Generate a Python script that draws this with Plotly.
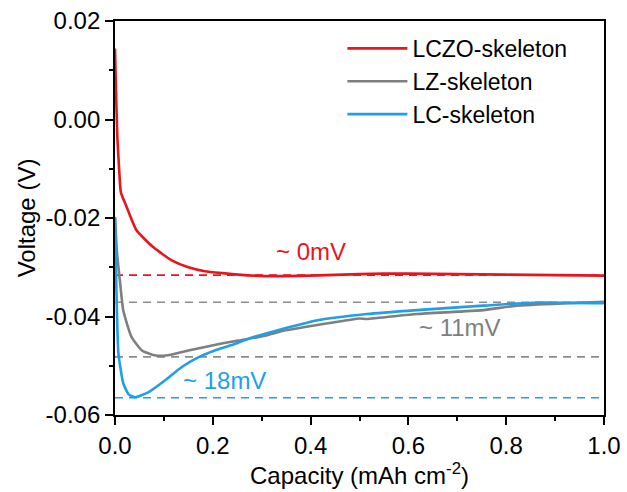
import plotly.graph_objects as go

# ---- data ----
lczo_x = [0.0, 0.002, 0.005, 0.009, 0.012, 0.024, 0.044, 0.078, 0.116, 0.15, 0.184, 0.22, 0.252,
          0.307, 0.4, 0.5, 0.55, 0.6, 0.7, 0.8, 0.9, 1.0]
lczo_y = [0.0144, 0.006, -0.004, -0.011, -0.0148, -0.0178, -0.0225, -0.0259, -0.0286, -0.0300,
          -0.0308, -0.0312, -0.0315, -0.0318, -0.0317, -0.0314, -0.0313, -0.0313, -0.0314,
          -0.0315, -0.0316, -0.0317]

lz_x = [0.0, 0.004, 0.01, 0.017, 0.034, 0.055, 0.078, 0.095, 0.116, 0.15, 0.184, 0.218, 0.252,
        0.307, 0.344, 0.446, 0.5, 0.515, 0.617, 0.753, 0.821, 0.924, 1.0]
lz_y = [-0.0198, -0.027, -0.0327, -0.0388, -0.0442, -0.0469, -0.0478, -0.0480, -0.0477, -0.0469,
        -0.0462, -0.0455, -0.0449, -0.0439, -0.0429, -0.0412, -0.0404, -0.0405, -0.0395,
        -0.0387, -0.0378, -0.0373, -0.0370]

lc_x = [0.0, 0.003, 0.007, 0.017, 0.028, 0.041, 0.068, 0.102, 0.136, 0.17, 0.204, 0.239, 0.273,
        0.307, 0.344, 0.412, 0.515, 0.617, 0.753, 0.855, 1.0]
lc_y = [-0.020, -0.035, -0.0475, -0.0536, -0.0558, -0.0564, -0.0554, -0.0530, -0.0503, -0.0483,
        -0.0469, -0.0458, -0.0445, -0.0435, -0.0425, -0.0408, -0.0395, -0.0387, -0.0378,
        -0.0372, -0.0373]

series_names = ["LCZO-skeleton", "LZ-skeleton", "LC-skeleton"]
colors = ["#E8161C", "#7F7F7F", "#1E9FE8"]

# reference (dashed) levels
ref_levels = [-0.0316, -0.0371, -0.0482, -0.0565]
ref_colors = ["#E8161C", "#8C8C8C", "#8C8C8C", "#1E9FE8"]

# annotations
ann_text = ["~ 0mV", "~ 11mV", "~ 18mV"]
ann_x = [0.40, 0.705, 0.223]
ann_y = [-0.0268, -0.0422, -0.0530]
ann_colors = ["#E8161C", "#7F7F7F", "#1E9FE8"]

# ticks
x_tickvals = [0.0, 0.2, 0.4, 0.6, 0.8, 1.0]
x_ticktext = ["0.0", "0.2", "0.4", "0.6", "0.8", "1.0"]
y_tickvals = [-0.06, -0.04, -0.02, 0.0, 0.02]
y_ticktext = ["-0.06", "-0.04", "-0.02", "0.00", "0.02"]

x_range = [0, 1]
y_range = [-0.06, 0.02]

FONT = "Liberation Sans, Arial, sans-serif"
FS = 24

fig = go.Figure()

for lvl, c in zip(ref_levels, ref_colors):
    fig.add_trace(go.Scatter(x=x_range, y=[lvl, lvl], mode="lines",
                             line=dict(color=c, width=1.6, dash="8px,6px"),
                             showlegend=False, hoverinfo="skip"))

for xs, ys, n, c in [(lczo_x, lczo_y, series_names[0], colors[0]),
                     (lz_x, lz_y, series_names[1], colors[1]),
                     (lc_x, lc_y, series_names[2], colors[2])]:
    fig.add_trace(go.Scatter(x=xs, y=ys, mode="lines", name=n,
                             line=dict(color=c, width=2.6, shape="spline", smoothing=0.5)))

for t, x, y, c in zip(ann_text, ann_x, ann_y, ann_colors):
    fig.add_annotation(x=x, y=y, text=t, showarrow=False,
                       font=dict(family=FONT, size=FS, color=c))

axis_common = dict(showline=True, linecolor="black", linewidth=1.8, mirror=True,
                   ticks="outside", ticklen=8, tickwidth=1.8, tickcolor="black",
                   showgrid=False, zeroline=False, automargin=False,
                   tickfont=dict(family=FONT, size=FS, color="black"),
                   minor=dict(ticks="outside", ticklen=4, tickwidth=1.5, tickcolor="black"))

fig.update_xaxes(range=x_range, tickmode="array", tickvals=x_tickvals, ticktext=x_ticktext,
                 title=dict(text="Capacity (mAh cm<sup>-2</sup>)", standoff=4,
                            font=dict(family=FONT, size=FS, color="black")),
                 minor_dtick=0.1, minor_tick0=0, **axis_common)
fig.update_yaxes(range=y_range, tickmode="array", tickvals=y_tickvals, ticktext=y_ticktext,
                 title=dict(text="Voltage (V)", standoff=3,
                            font=dict(family=FONT, size=FS, color="black")),
                 minor_dtick=0.01, minor_tick0=0, **axis_common)

fig.update_layout(
    width=627, height=492,
    margin=dict(l=115, r=23, t=21, b=77),
    plot_bgcolor="white", paper_bgcolor="white",
    font=dict(family=FONT, size=FS, color="black"),
    legend=dict(x=0.465, y=0.985, xanchor="left", yanchor="top",
                bgcolor="rgba(0,0,0,0)", borderwidth=0,
                font=dict(family=FONT, size=23, color="black"),
                itemwidth=60, tracegroupgap=0),
)

fig.write_html("out.html")
